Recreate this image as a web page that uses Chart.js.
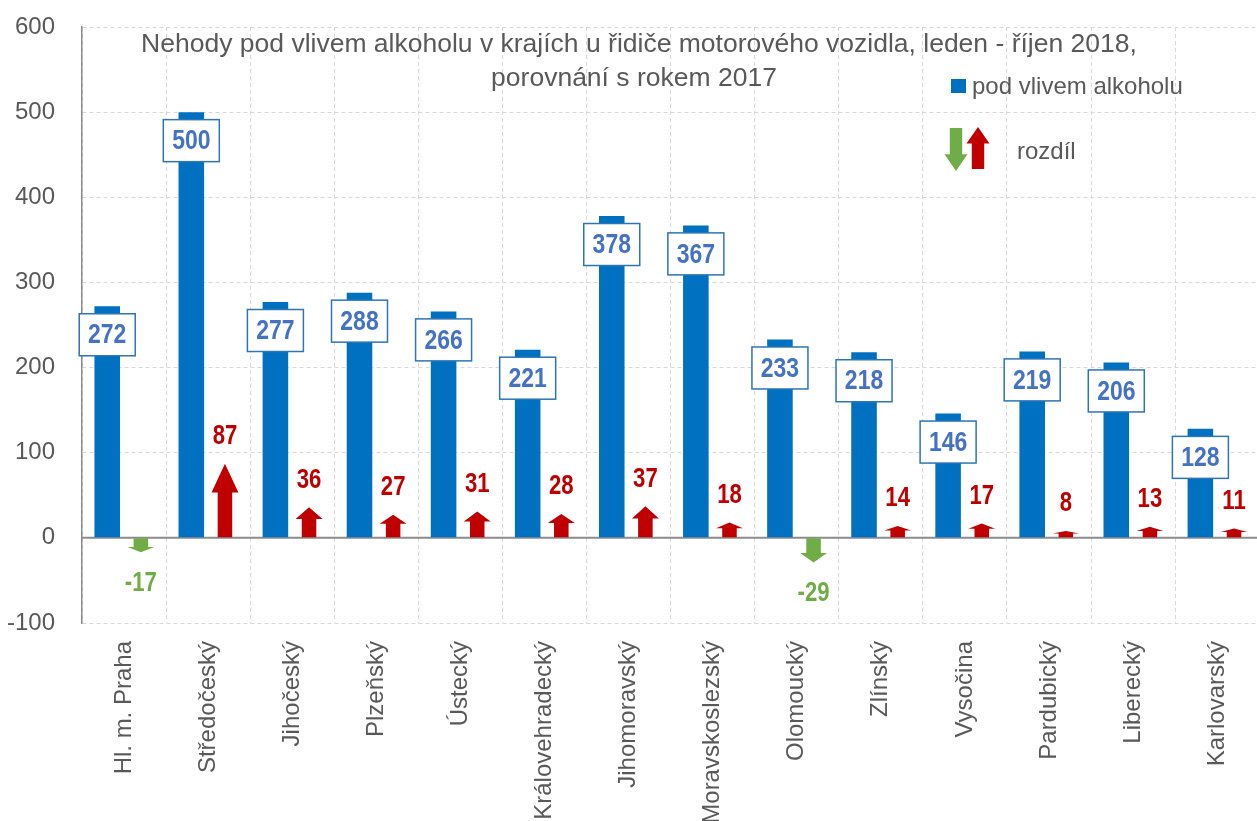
<!DOCTYPE html>
<html lang="cs">
<head>
<meta charset="utf-8">
<title>Nehody pod vlivem alkoholu</title>
<script src="https://cdn.jsdelivr.net/npm/chart.js@4.4.1/dist/chart.umd.min.js"></script>
<style>
  html, body { margin: 0; padding: 0; background: #fff; overflow: hidden; }
  #wrap { width: 1264px; height: 821px; position: relative; }
</style>
</head>
<body>
<div id="wrap"><canvas id="graf"></canvas></div>
<script>
// Data
const kraje = ['Hl. m. Praha', 'Středočeský', 'Jihočeský', 'Plzeňský', 'Ústecký', 'Královehradecký',
  'Jihomoravský', 'Moravskoslezský', 'Olomoucký', 'Zlínský', 'Vysočina', 'Pardubický', 'Liberecký', 'Karlovarský'];
const alkohol2018 = [272, 500, 277, 288, 266, 221, 378, 367, 233, 218, 146, 219, 206, 128];
const rozdil = [-17, 87, 36, 27, 31, 28, 37, 18, -29, 14, 17, 8, 13, 11];
const yTicks = [-100, 0, 100, 200, 300, 400, 500, 600];
const titulek = ['Nehody pod vlivem alkoholu v krajích u řidiče motorového vozidla, leden - říjen 2018,',
  'porovnání s rokem 2017'];

const SANS = "'Liberation Sans', Arial, sans-serif";
const GREY = '#595959';
const BLUE = '#0070c0';
const RED = '#c00000';
const GREEN = '#70ad47';

// kreslení šipky (tip = hrot, base = pata)
function sipka(ctx, x, tip, base, w, color) {
    const len = base - tip;
    const head = len * 0.39;
    const shaft = w * 0.54;
    const neck = tip + head;
    ctx.save();
    ctx.fillStyle = color;
    ctx.beginPath();
    ctx.moveTo(x, tip);
    ctx.lineTo(x + w / 2, neck);
    ctx.lineTo(x + shaft / 2, neck);
    ctx.lineTo(x + shaft / 2, base);
    ctx.lineTo(x - shaft / 2, base);
    ctx.lineTo(x - shaft / 2, neck);
    ctx.lineTo(x - w / 2, neck);
    ctx.closePath();
    ctx.fill();
    ctx.restore();
}

// úzké písmo (Arial Narrow není k dispozici) - horizontální zúžení
function uzkyText(ctx, text, x, y, font, color) {
    ctx.save();
    ctx.translate(x, y);
    ctx.scale(0.82, 1);
    ctx.font = font;
    ctx.fillStyle = color;
    ctx.textAlign = 'center';
    ctx.textBaseline = 'middle';
    ctx.fillText(text, 0, 0);
    ctx.restore();
}

const dekorace = {
    id: 'dekorace',
    beforeDatasetsDraw(chart) {
        // nulová osa
        const { ctx, chartArea, scales } = chart;
        const y0 = scales.y.getPixelForValue(0);
        ctx.save();
        ctx.strokeStyle = '#8c8c8c';
        ctx.lineWidth = 2;
        ctx.beginPath();
        ctx.moveTo(chartArea.left, y0);
        ctx.lineTo(chartArea.right, y0);
        ctx.stroke();
        ctx.restore();
    },
    afterDatasetsDraw(chart) {
        const { ctx } = chart;
        const bars = chart.getDatasetMeta(0).data;
        const arrows = chart.getDatasetMeta(1).data;

        // šipky rozdílu
        arrows.forEach((el, i) => {
            const v = rozdil[i];
            const p = el.getProps(['x', 'y', 'base', 'width'], true);
            const color = v < 0 ? GREEN : RED;
            sipka(ctx, p.x, p.y, p.base, p.width, color);
            uzkyText(ctx, String(v), p.x, v < 0 ? p.y + 31 : p.y - 27, 'bold 27px ' + SANS, color);
        });

        // popisky sloupců
        bars.forEach((el, i) => {
            const p = el.getProps(['x', 'y'], true);
            const cy = p.y + 28.5;
            const w = 56, h = 42;
            ctx.save();
            ctx.fillStyle = '#fff';
            ctx.strokeStyle = '#2e75b6';
            ctx.lineWidth = 1.5;
            ctx.fillRect(p.x - w / 2, cy - h / 2, w, h);
            ctx.strokeRect(p.x - w / 2, cy - h / 2, w, h);
            ctx.restore();
            uzkyText(ctx, String(alkohol2018[i]), p.x, cy + 1, 'bold 28px ' + SANS, '#4472c4');
        });
    },
    afterDraw(chart) {
        const { ctx } = chart;
        ctx.save();
        // titulek
        ctx.font = '26.5px ' + SANS;
        ctx.fillStyle = GREY;
        ctx.textAlign = 'center';
        ctx.textBaseline = 'middle';
        ctx.fillText(titulek[0], 639, 45);
        ctx.fillText(titulek[1], 634, 79);

        // legenda
        ctx.fillStyle = BLUE;
        ctx.fillRect(951, 79, 15, 14);
        ctx.font = '24px ' + SANS;
        ctx.fillStyle = GREY;
        ctx.textAlign = 'left';
        ctx.fillText(chart.data.datasets[0].label, 972, 87);
        sipka(ctx, 956, 171, 128, 23, GREEN);
        sipka(ctx, 978, 127, 169, 23, RED);
        ctx.fillStyle = GREY;
        ctx.fillText(chart.data.datasets[1].label, 1017, 152);
        ctx.restore();
    }
};

new Chart(document.getElementById('graf'), {
    type: 'bar',
    data: {
        labels: kraje,
        datasets: [
            {
                label: 'pod vlivem alkoholu',
                data: alkohol2018,
                backgroundColor: BLUE,
                barPercentage: 0.76,
                categoryPercentage: 0.8
            },
            {
                label: 'rozdíl',
                data: rozdil,
                backgroundColor: 'rgba(0,0,0,0)',
                barPercentage: 0.8,
                categoryPercentage: 0.8
            }
        ]
    },
    options: {
        responsive: true,
        maintainAspectRatio: false,
        animation: false,
        layout: { padding: { top: 27, left: 0, right: 0, bottom: 0 } },
        plugins: {
            legend: { display: false },
            title: { display: false },
            tooltip: { enabled: false }
        },
        scales: {
            x: {
                afterFit(scale) { scale.height = 198; },
                grid: { color: '#d9d9d9', lineWidth: 1, drawTicks: false, offset: true },
                border: { display: false, dash: [4, 3] },
                ticks: {
                    color: GREY,
                    font: { family: SANS, size: 24 },
                    minRotation: 90,
                    maxRotation: 90,
                    autoSkip: false,
                    padding: 18
                }
            },
            y: {
                min: -100,
                max: 600,
                afterFit(scale) {
                    scale.width = 82;
                    scale.paddingTop = 0;
                    scale.paddingBottom = 0;
                },
                afterBuildTicks(scale) { scale.ticks = yTicks.map(v => ({ value: v })); },
                grid: { color: '#d9d9d9', lineWidth: 1, drawTicks: false },
                border: { display: true, color: '#8c8c8c', width: 1.5, dash: [4, 3] },
                ticks: {
                    color: GREY,
                    font: { family: SANS, size: 24 },
                    padding: 27
                }
            }
        }
    },
    plugins: [dekorace]
});
</script>
</body>
</html>
